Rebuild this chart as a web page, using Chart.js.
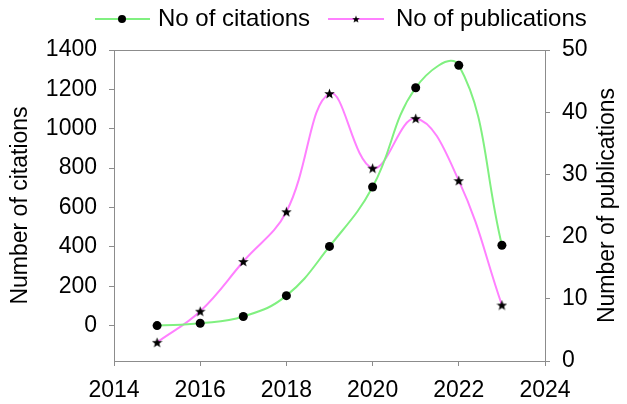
<!DOCTYPE html>
<html>
<head>
<meta charset="utf-8">
<script src="https://cdn.jsdelivr.net/npm/chart.js@4"></script>
<style>
  html, body { margin: 0; padding: 0; background: #fff; }
  #wrap { width: 627px; height: 404px; position: relative; }
</style>
</head>
<body>
<div id="wrap"><canvas id="chart" width="627" height="404"></canvas></div>
<script>
// data
const years = [2015, 2016, 2017, 2018, 2019, 2020, 2021, 2022, 2023]
const citations = [0, 12, 46, 152, 402, 704, 1208, 1322, 408]
const publications = [3, 8, 16, 24, 43, 31, 39, 29, 9]
const leftTicks = [0, 200, 400, 600, 800, 1000, 1200, 1400]
const rightTicks = [0, 10, 20, 30, 40, 50]
const xTicks = [2014, 2016, 2018, 2020, 2022, 2024]

const green = '#80f080'
const pink = '#ff80ff'
const axisGray = '#8c8c8c'
const FONT = 'Liberation Sans, Arial, sans-serif'

// filled 5-point star marker
function makeStar(size) {
  const c = document.createElement('canvas')
  c.width = size; c.height = size
  const g = c.getContext('2d')
  const cx = size / 2, cy = size / 2 + 0.5, R = size / 2, r = R * 0.42
  g.beginPath()
  for (let i = 0; i < 10; i++) {
    const rad = i % 2 === 0 ? R : r
    const a = -Math.PI / 2 + i * Math.PI / 5
    g.lineTo(cx + rad * Math.cos(a), cy + rad * Math.sin(a))
  }
  g.closePath()
  g.fillStyle = '#000'
  g.fill()
  return c
}
const star = makeStar(11)

// legend + top border + right title
const extras = {
  id: 'extras',
  afterDraw(chart) {
    const { ctx, chartArea: a } = chart
    ctx.save()
    ctx.strokeStyle = axisGray
    ctx.lineWidth = 1
    ctx.beginPath()
    ctx.moveTo(a.left, a.top + 0.5)
    ctx.lineTo(a.right, a.top + 0.5)
    ctx.stroke()

    // right axis title, reading bottom to top
    ctx.fillStyle = '#000'
    ctx.font = '23px ' + FONT
    ctx.textAlign = 'center'
    ctx.textBaseline = 'middle'
    ctx.translate(608, (a.top + a.bottom) / 2)
    ctx.rotate(-Math.PI / 2)
    ctx.fillText('Number of publications', 0, 0)
    ctx.restore()

    // legend
    ctx.save()
    const ly = 19
    ctx.lineWidth = 2
    ctx.strokeStyle = green
    ctx.beginPath(); ctx.moveTo(95, ly); ctx.lineTo(150, ly); ctx.stroke()
    ctx.fillStyle = '#000'
    ctx.beginPath(); ctx.arc(122, ly, 4, 0, Math.PI * 2); ctx.fill()
    ctx.strokeStyle = pink
    ctx.beginPath(); ctx.moveTo(328, ly); ctx.lineTo(384, ly); ctx.stroke()
    ctx.drawImage(star, 356 - 4, ly - 4, 8, 8)
    ctx.font = '24px ' + FONT
    ctx.textAlign = 'left'
    ctx.textBaseline = 'middle'
    ctx.fillText('No of citations', 158, ly)
    ctx.fillText('No of publications', 396, ly)
    ctx.restore()
  }
}

new Chart(document.getElementById('chart'), {
  type: 'line',
  data: {
    datasets: [
      {
        label: 'No of citations',
        data: years.map((y, i) => ({ x: y, y: citations[i] })),
        yAxisID: 'y',
        borderColor: green,
        borderWidth: 2,
        pointStyle: 'circle',
        pointRadius: 4.5,
        pointBackgroundColor: '#000',
        pointBorderWidth: 0,
        tension: 0.42
      },
      {
        label: 'No of publications',
        data: years.map((y, i) => ({ x: y, y: publications[i] })),
        yAxisID: 'y1',
        borderColor: pink,
        borderWidth: 2,
        pointStyle: star,
        pointRadius: 5,
        tension: 0.4
      }
    ]
  },
  options: {
    responsive: false,
    animation: false,
    events: [],
    layout: { padding: { top: 50, left: 0, right: 0, bottom: 0 } },
    elements: { line: { capBezierPoints: false } },
    plugins: { legend: { display: false }, tooltip: { enabled: false } },
    scales: {
      x: {
        type: 'linear',
        min: 2014, max: 2024,
        afterFit: s => { s.height = 43 },
        afterBuildTicks: s => { s.ticks = xTicks.map(v => ({ value: v })) },
        border: { color: axisGray, width: 1 },
        grid: { drawOnChartArea: false, color: axisGray, tickLength: 5 },
        ticks: { color: '#000', padding: 11, maxRotation: 0, font: { family: FONT, size: 23 }, callback: v => String(v) }
      },
      y: {
        position: 'left',
        min: -180, max: 1400,
        afterFit: s => { s.width = 114 },
        afterBuildTicks: s => { s.ticks = leftTicks.map(v => ({ value: v })) },
        border: { color: axisGray, width: 1 },
        grid: { drawOnChartArea: false, color: axisGray, tickLength: 5 },
        ticks: { color: '#000', padding: 12, font: { family: FONT, size: 23 }, callback: v => String(v) },
        title: { display: true, text: 'Number of citations', color: '#000', padding: { top: 7, bottom: 0 }, font: { family: FONT, size: 23 } }
      },
      y1: {
        position: 'right',
        min: 0, max: 50,
        afterFit: s => { s.width = 82 },
        afterBuildTicks: s => { s.ticks = rightTicks.map(v => ({ value: v })) },
        border: { color: axisGray, width: 1 },
        grid: { drawOnChartArea: false, color: axisGray, tickLength: 5 },
        ticks: { color: '#000', padding: 12, font: { family: FONT, size: 23 }, callback: v => String(v) }
      }
    }
  },
  plugins: [extras]
})
</script>
</body>
</html>
